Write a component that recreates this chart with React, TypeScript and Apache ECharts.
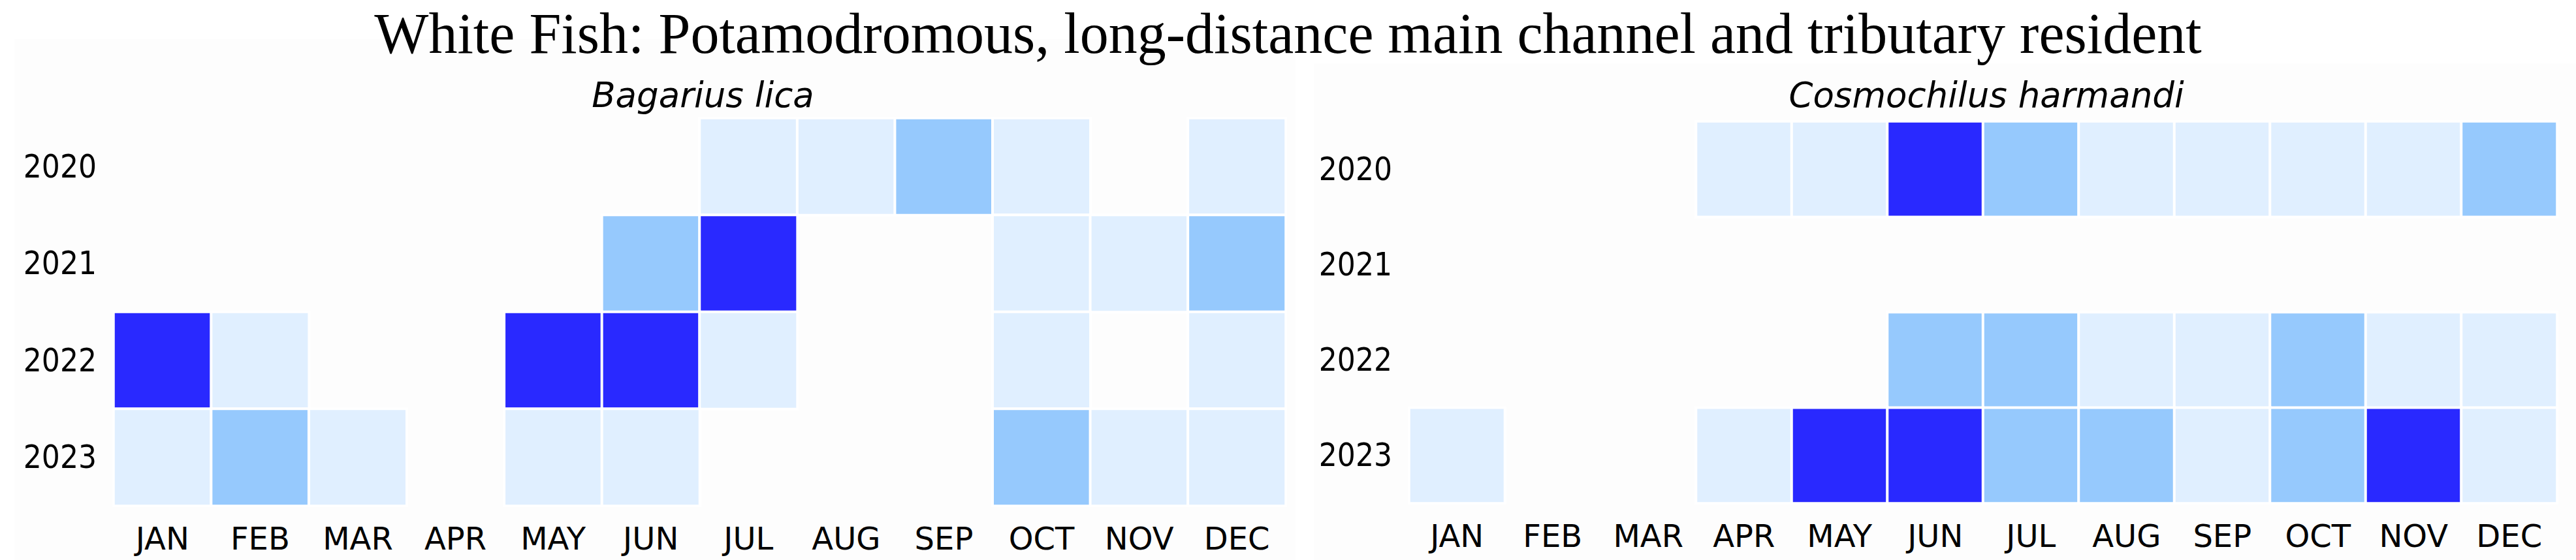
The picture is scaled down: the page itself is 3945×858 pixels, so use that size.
import React, { useEffect, useRef } from "react";
import * as echarts from "echarts";

const TITLE = "White Fish: Potamodromous, long-distance main channel and tributary resident";
const MONTHS = ["JAN", "FEB", "MAR", "APR", "MAY", "JUN", "JUL", "AUG", "SEP", "OCT", "NOV", "DEC"];
const YEARS = ["2020", "2021", "2022", "2023"];
const SPECIES_LEFT = "Bagarius lica";
const SPECIES_RIGHT = "Cosmochilus harmandi";

// occurrence level per month: 0 none, 1 low, 2 medium, 3 high
const LEFT_2020 = [0, 0, 0, 0, 0, 0, 1, 1, 2, 1, 0, 1];
const LEFT_2021 = [0, 0, 0, 0, 0, 2, 3, 0, 0, 1, 1, 2];
const LEFT_2022 = [3, 1, 0, 0, 3, 3, 1, 0, 0, 1, 0, 1];
const LEFT_2023 = [1, 2, 1, 0, 1, 1, 0, 0, 0, 2, 1, 1];

const RIGHT_2020 = [0, 0, 0, 1, 1, 3, 2, 1, 1, 1, 1, 2];
const RIGHT_2021 = [0, 0, 0, 0, 0, 0, 0, 0, 0, 0, 0, 0];
const RIGHT_2022 = [0, 0, 0, 0, 0, 2, 2, 1, 1, 2, 1, 1];
const RIGHT_2023 = [1, 0, 0, 1, 3, 3, 2, 2, 1, 2, 3, 1];

const LEVEL_COLORS = ["#e0efff", "#96c9fd", "#2929ff"];

function toCells(rows: number[][]) {
  const out: number[][] = [];
  rows.forEach((row, yi) => {
    row.forEach((v, xi) => {
      if (v > 0) out.push([xi, yi, v]);
    });
  });
  return out;
}

export default function App() {
  const ref = useRef<HTMLDivElement>(null);
  useEffect(() => {
    document.body.style.margin = "0";
    const chart = echarts.init(ref.current!, undefined, { renderer: "svg" });
    const leftData = toCells([LEFT_2020, LEFT_2021, LEFT_2022, LEFT_2023]);
    const rightData = toCells([RIGHT_2020, RIGHT_2021, RIGHT_2022, RIGHT_2023]);

    const sans = "DejaVu Sans";
    const xAxisBase = {
      type: "category",
      data: MONTHS,
      position: "bottom",
      axisLine: { show: false },
      axisTick: { show: false },
      splitLine: { show: false },
      splitArea: { show: false },
      axisLabel: { fontFamily: sans, fontSize: 48, color: "#000", margin: 26 },
    };
    const yAxisBase = {
      type: "category",
      data: YEARS,
      inverse: true,
      axisLine: { show: false },
      axisTick: { show: false },
      splitLine: { show: false },
      splitArea: { show: false },
      axisLabel: { fontFamily: "DejaVu Sans Condensed", fontSize: 49, color: "#000", margin: 26 },
    };

    const leftGrid = { left: 174, top: 181, width: 1795, height: 594 };
    const rightGrid = { left: 2158, top: 186, width: 1758, height: 585 };

    chart.setOption({
      animation: false,
      backgroundColor: "#ffffff",
      title: [
        {
          text: TITLE,
          left: "center",
          top: 2,
          textStyle: { fontFamily: "Liberation Serif", fontSize: 88, fontWeight: "normal", color: "#000" },
        },
        {
          text: SPECIES_LEFT,
          left: leftGrid.left + leftGrid.width / 2,
          textAlign: "center",
          top: 114,
          textStyle: { fontFamily: sans, fontStyle: "italic", fontSize: 53, fontWeight: "normal", color: "#000" },
        },
        {
          text: SPECIES_RIGHT,
          left: rightGrid.left + rightGrid.width / 2,
          textAlign: "center",
          top: 114,
          textStyle: { fontFamily: sans, fontStyle: "italic", fontSize: 53, fontWeight: "normal", color: "#000" },
        },
      ],
      graphic: [
        { type: "rect", z: -10, silent: true, shape: { x: 22, y: 60, width: 1962, height: 798 }, style: { fill: "#fdfdfd" } },
        { type: "rect", z: -10, silent: true, shape: { x: 2012, y: 97, width: 1933, height: 761 }, style: { fill: "#fdfdfd" } },
      ],
      grid: [leftGrid, rightGrid],
      xAxis: [
        { ...xAxisBase, gridIndex: 0 },
        { ...xAxisBase, gridIndex: 1 },
      ],
      yAxis: [
        { ...yAxisBase, gridIndex: 0 },
        { ...yAxisBase, gridIndex: 1 },
      ],
      visualMap: {
        type: "piecewise",
        show: false,
        seriesIndex: [0, 1],
        dimension: 2,
        pieces: [
          { value: 1, color: LEVEL_COLORS[0] },
          { value: 2, color: LEVEL_COLORS[1] },
          { value: 3, color: LEVEL_COLORS[2] },
        ],
      },
      series: [
        {
          type: "heatmap",
          xAxisIndex: 0,
          yAxisIndex: 0,
          data: leftData,
          itemStyle: { borderColor: "#ffffff", borderWidth: 4 },
          emphasis: { disabled: true },
        },
        {
          type: "heatmap",
          xAxisIndex: 1,
          yAxisIndex: 1,
          data: rightData,
          itemStyle: { borderColor: "#ffffff", borderWidth: 4 },
          emphasis: { disabled: true },
        },
      ],
    });
    return () => chart.dispose();
  }, []);
  return <div ref={ref} style={{ width: 3945, height: 858 }} />;
}
